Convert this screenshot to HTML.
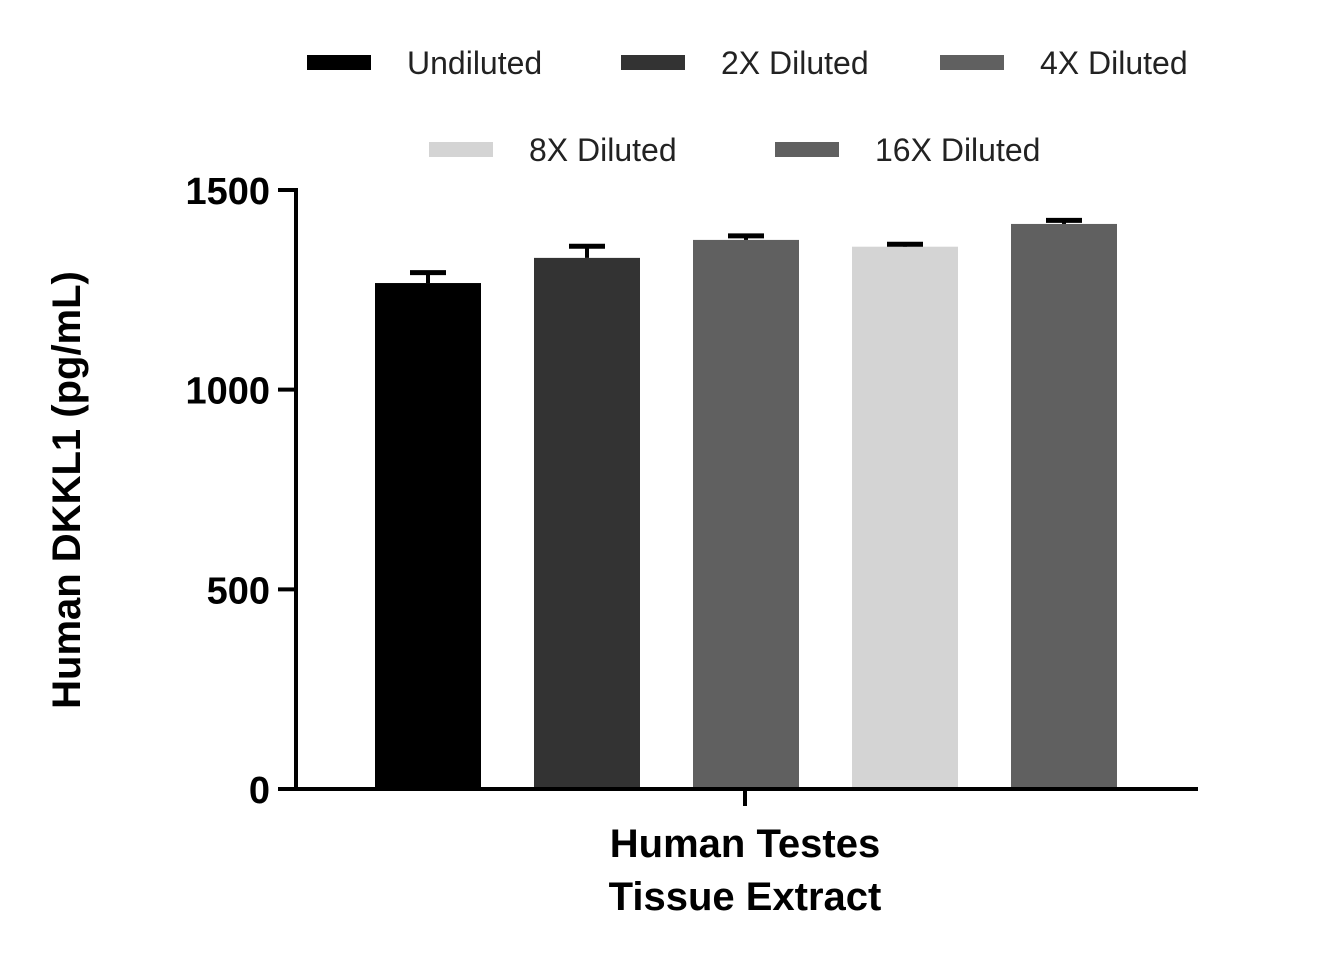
<!DOCTYPE html>
<html><head><meta charset="utf-8"><style>
body{margin:0;background:#fff;}
svg{display:block;font-family:"Liberation Sans",sans-serif;}
</style></head><body>
<svg id="chart" width="1334" height="965">
<g id="legend"></g>
<g id="bars"></g>
<g id="axes"></g>
<text x="80" y="490" transform="rotate(-90 80 490)" text-anchor="middle" font-size="40" font-weight="bold">Human DKKL1 (pg/mL)</text>
<text x="745" y="857" text-anchor="middle" font-size="40" font-weight="bold">Human Testes</text>
<text x="745" y="910" text-anchor="middle" font-size="40" font-weight="bold">Tissue Extract</text>
</svg>
<script>
const series = ["Undiluted","2X Diluted","4X Diluted","8X Diluted","16X Diluted"];
const values = [1267, 1330, 1375, 1358, 1415];
const errors = [26, 29, 10, 6, 9];
const colors = ["#000000","#333333","#606060","#d4d4d4","#606060"];
const yTicks = [0, 500, 1000, 1500];

const NS="http://www.w3.org/2000/svg";
const y0=789, yTop=190, yMax=1500;
const y=v=>y0-(v/yMax)*(y0-yTop);
const barX=i=>375+i*159, barW=106;
function mk(t,a,p){const e=document.createElementNS(NS,t);for(const k in a)e.setAttribute(k,a[k]);p.appendChild(e);return e;}
const bars=document.getElementById('bars'), axes=document.getElementById('axes'), leg=document.getElementById('legend');
values.forEach((v,i)=>{
  const r=mk('rect',{x:barX(i),y:y(v),width:barW,height:y0-y(v),fill:colors[i]},bars);
  
  
  const cx=barX(i)+barW/2, ye=y(v+errors[i]);
  const l=mk('line',{x1:cx,x2:cx,y1:y(v),y2:ye,stroke:'#000','stroke-width':4},bars);
  
  
  const c=mk('line',{x1:cx-18,x2:cx+18,y1:ye,y2:ye,stroke:'#000','stroke-width':5},bars);
  
  
});
const ya=mk('line',{x1:296,x2:296,y1:yTop-2,y2:y0+2,stroke:'#000','stroke-width':4},axes);


const xa=mk('line',{x1:278,x2:1198,y1:y0,y2:y0,stroke:'#000','stroke-width':4},axes);


const xt=mk('line',{x1:745,x2:745,y1:y0,y2:806,stroke:'#000','stroke-width':4},axes);


yTicks.forEach(t=>{
  const tk=mk('line',{x1:278,x2:296,y1:y(t),y2:y(t),stroke:'#000','stroke-width':4},axes);
  
  
  const tx=mk('text',{x:270,y:y(t)+14,'text-anchor':'end','font-size':38,'font-weight':'bold'},axes);
  tx.textContent=t;
  
  
});
const legPos=[[307,63],[621,63],[940,63],[429,150],[775,150]];
series.forEach((s,i)=>{
  const [lx,ly]=legPos[i];
  const g=mk('g',{},leg);
  
  
  mk('rect',{x:lx,y:ly-8,width:64,height:15,fill:colors[i]},g);
  const tx=mk('text',{x:lx+100,y:ly+11,'font-size':32,fill:'#222'},g);
  tx.textContent=s;
});
</script>
</body></html>
